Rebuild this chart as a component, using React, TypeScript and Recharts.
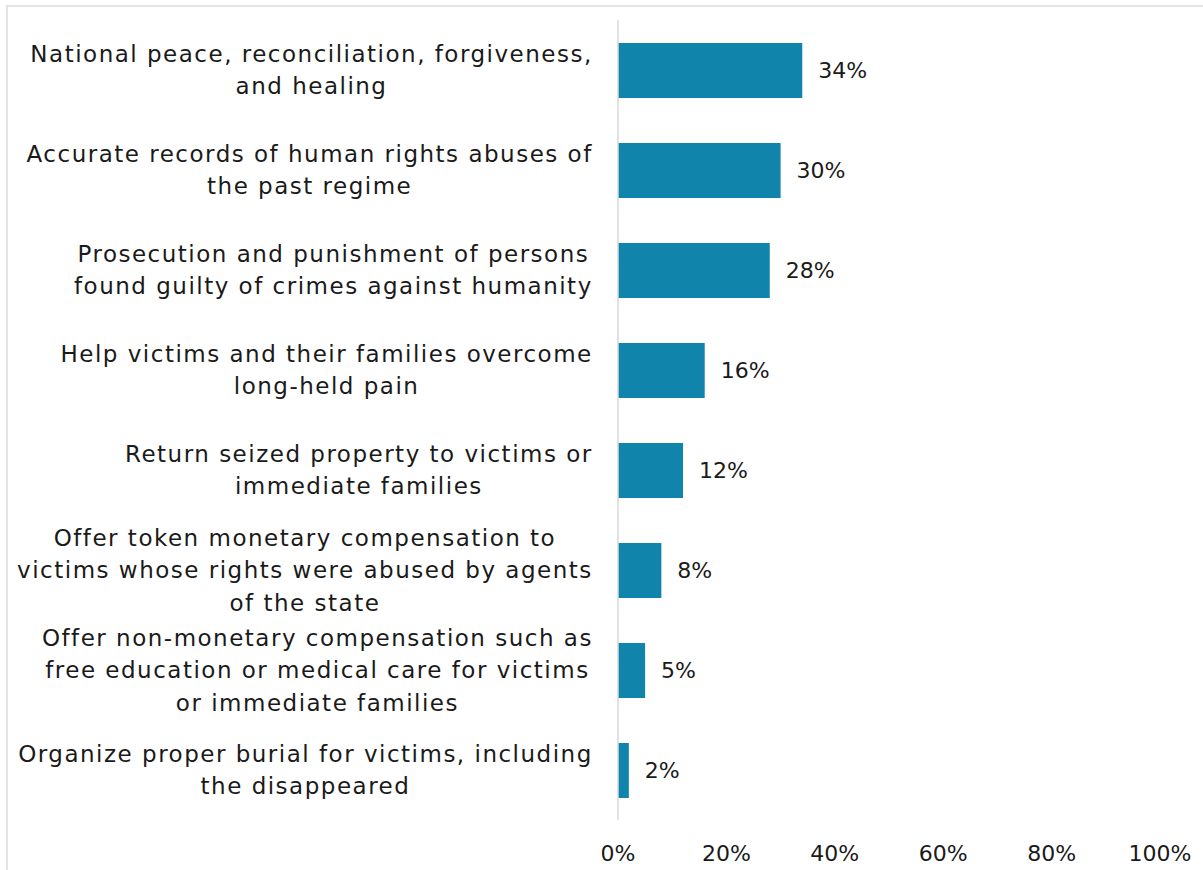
import React from 'react';
import { BarChart, Bar, XAxis, YAxis, LabelList } from 'recharts';

const categories = [
  'National peace, reconciliation, forgiveness,\nand healing',
  'Accurate records of human rights abuses of\nthe past regime',
  'Prosecution and punishment of persons\nfound guilty of crimes against humanity',
  'Help victims and their families overcome\nlong-held pain',
  'Return seized property to victims or\nimmediate families',
  'Offer token monetary compensation to\nvictims whose rights were abused by agents\nof the state',
  'Offer non-monetary compensation such as\nfree education or medical care for victims\nor immediate families',
  'Organize proper burial for victims, including\nthe disappeared',
];
const values = [34, 30, 28, 16, 12, 8, 5, 2];
const xTicks = [0, 20, 40, 60, 80, 100];

const data = categories.map((name, i) => ({ name, value: values[i] }));

const FONT = '"DejaVu Sans", sans-serif';
const FS = 22;
const CAT_FS = 23;
const CAT_LS = 1.5;

let ctx: CanvasRenderingContext2D | null = null;
function measure(t: string): number {
  if (!ctx) {
    const c = document.createElement('canvas');
    ctx = c.getContext('2d');
  }
  if (!ctx) return t.length * (CAT_FS * 0.55 + CAT_LS);
  ctx.font = `${CAT_FS}px ${FONT}`;
  return ctx.measureText(t).width + t.length * CAT_LS;
}

const CategoryTick = (props: any) => {
  const { x, y, payload } = props;
  const lines = String(payload.value).split('\n');
  const w = Math.max(...lines.map(measure));
  const right = x - 18;
  const cx = right - w / 2 + CAT_LS / 2;
  const lh = 32.5;
  const startY = y - ((lines.length - 1) * lh) / 2;
  return (
    <text
      textAnchor="middle"
      fontFamily={FONT}
      fontSize={CAT_FS}
      fill="#1a1a1a"
      style={{ letterSpacing: `${CAT_LS}px` }}
    >
      {lines.map((l, i) => (
        <tspan key={i} x={cx} y={startY + i * lh} dy="0.35em">
          {l}
        </tspan>
      ))}
    </text>
  );
};

export default function App() {
  return (
    <div style={{ position: 'absolute', left: 0, top: 0, width: 1203, height: 870, background: '#fff' }}>
      <div
        style={{
          position: 'absolute',
          left: 6,
          top: 5,
          right: 0,
          bottom: 0,
          borderTop: '2px solid #e4e4e4',
          borderLeft: '2px solid #e4e4e4',
        }}
      />
      <BarChart
        width={1203}
        height={870}
        data={data}
        layout="vertical"
        margin={{ top: 20, right: 43, bottom: 0, left: 0 }}
        style={{ position: 'absolute', left: 0, top: 0 }}
      >
        <XAxis
          type="number"
          domain={[0, 100]}
          ticks={xTicks}
          tickFormatter={(v: number) => `${v}%`}
          axisLine={false}
          tickLine={false}
          height={50}
          tickMargin={19}
          interval={0}
          tick={{ fontFamily: FONT, fontSize: FS, fill: '#1a1a1a' }}
        />
        <YAxis
          type="category"
          dataKey="name"
          width={618}
          axisLine={{ stroke: '#d9d9d9', strokeWidth: 1.5 }}
          tickLine={false}
          interval={0}
          tick={<CategoryTick />}
        />
        <Bar dataKey="value" fill="#1084ab" barSize={55} isAnimationActive={false}>
          <LabelList
            dataKey="value"
            position="right"
            offset={16}
            formatter={(v: any) => `${v}%`}
            style={{ fontFamily: FONT, fontSize: FS, fill: '#1a1a1a' }}
          />
        </Bar>
      </BarChart>
    </div>
  );
}
